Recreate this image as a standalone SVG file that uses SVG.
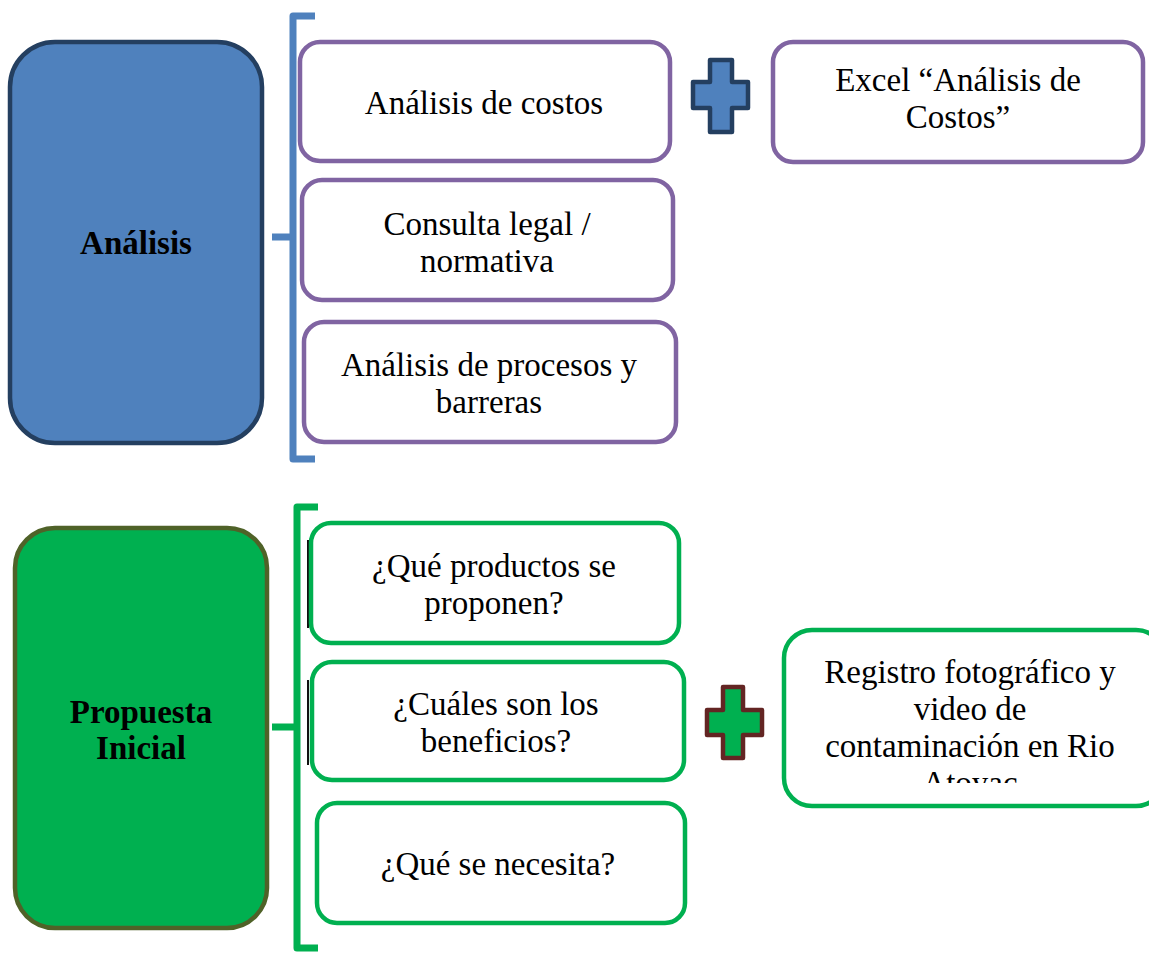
<svg xmlns="http://www.w3.org/2000/svg" width="1149" height="953" viewBox="0 0 1149 953">
<style>
.t{font-family:"Liberation Serif","Times New Roman",serif;font-size:33px;fill:#000;text-anchor:middle}
.b{font-weight:bold}
.pb{fill:#fff;stroke:#8064A2;stroke-width:4.5}
.gb{fill:#fff;stroke:#00B050;stroke-width:4.5}
.br{fill:none;stroke-width:7;stroke-linejoin:round}
</style>
<defs><clipPath id="clipReg"><rect x="783" y="630" width="366" height="153"/></clipPath></defs>
<g id="connectors">
  <path class="br" stroke="#4F81BD" d="M315,16 L293,16 L293,459 L315,459 M293,237 L272,237"/>
  <path class="br" stroke="#00B050" d="M318,507 L297,507 L297,948 L318,948 M297,727 L272,727"/>
  <path d="M308,540 L308,628 M308,680 L308,765" stroke="#111" stroke-width="2" fill="none"/>
</g>
<g id="analisis">
  <rect x="10" y="42" width="252" height="401" rx="45" fill="#4F81BD" stroke="#243F60" stroke-width="4.5"/>
  <text class="t b" x="136" y="254">Análisis</text>
</g>
<g id="costos">
  <rect class="pb" x="300" y="42" width="370" height="119" rx="20"/>
  <text class="t" x="484" y="114">Análisis de costos</text>
</g>
<g id="legal">
  <rect class="pb" x="302" y="180" width="371" height="120" rx="20"/>
  <text class="t" x="487" y="235">Consulta legal /</text>
  <text class="t" x="487" y="272">normativa</text>
</g>
<g id="procesos">
  <rect class="pb" x="304" y="322" width="372" height="120" rx="20"/>
  <text class="t" x="489" y="376">Análisis de procesos y</text>
  <text class="t" x="489" y="413">barreras</text>
</g>
<g id="plus1">
  <path d="M710,60 H732 V82 H748 V108 H732 V132 H710 V108 H693 V82 H710 Z" fill="#4F81BD" stroke="#243F60" stroke-width="4.5" stroke-linejoin="round"/>
</g>
<g id="excel">
  <rect class="pb" x="773" y="42" width="370" height="120" rx="20"/>
  <text class="t" x="958" y="91">Excel “Análisis de</text>
  <text class="t" x="958" y="128">Costos”</text>
</g>
<g id="propuesta">
  <rect x="15" y="528" width="252" height="400" rx="40" fill="#00B050" stroke="#4F6228" stroke-width="4.5"/>
  <text class="t b" x="141" y="723">Propuesta</text>
  <text class="t b" x="141" y="759">Inicial</text>
</g>
<g id="productos">
  <rect class="gb" x="311" y="523" width="368" height="120" rx="20"/>
  <text class="t" x="494" y="577">¿Qué productos se</text>
  <text class="t" x="494" y="614">proponen?</text>
</g>
<g id="beneficios">
  <rect class="gb" x="312" y="662" width="372" height="118" rx="20"/>
  <text class="t" x="496" y="715">¿Cuáles son los</text>
  <text class="t" x="496" y="752">beneficios?</text>
</g>
<g id="necesita">
  <rect class="gb" x="317" y="803" width="368" height="120" rx="20"/>
  <text class="t" x="498" y="875">¿Qué se necesita?</text>
</g>
<g id="plus2">
  <path d="M723,687 H743 V710 H762 V735 H743 V758 H723 V735 H707 V710 H723 Z" fill="#00B050" stroke="#632523" stroke-width="4.5" stroke-linejoin="round"/>
</g>
<g id="registro">
  <rect class="gb" x="784" y="630" width="380" height="176" rx="28"/>
  <g clip-path="url(#clipReg)">
    <text class="t" x="970" y="683">Registro fotográfico y</text>
    <text class="t" x="970" y="720">video de</text>
    <text class="t" x="970" y="757">contaminación en Rio</text>
    <text class="t" x="970" y="794">Atoyac</text>
  </g>
</g>
</svg>
